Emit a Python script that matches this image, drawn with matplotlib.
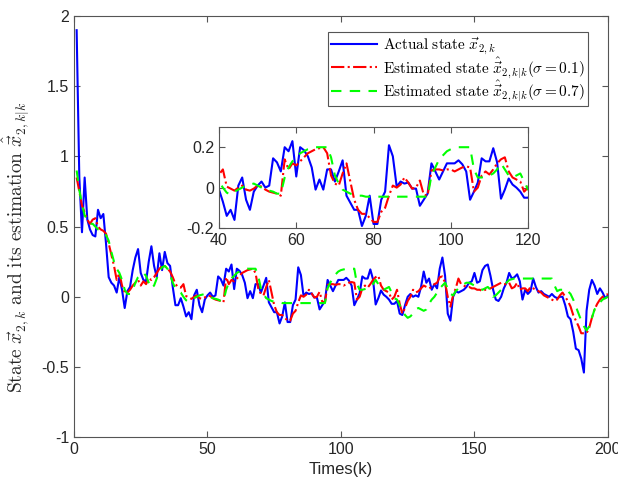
import numpy as np
import matplotlib
matplotlib.use("Agg")
import matplotlib.pyplot as plt

# ---- data, k = 1..200
actual_state = [
    1.9, 0.85, 0.46, 0.85, 0.55, 0.48, 0.44, 0.43, 0.62, 0.56,
    0.59, 0.38, 0.14, 0.10, 0.08, 0.03, 0.14, 0.05, -0.08, 0.04,
    0.07, 0.19, 0.28, 0.34, 0.17, 0.12, 0.11, 0.25, 0.36, 0.22,
    0.14, 0.31, 0.19, 0.32, 0.24, 0.22, 0.07, -0.06, -0.06, -0.01,
    -0.07, -0.14, -0.11, -0.16, 0.01, 0.05, -0.06, -0.11, -0.02, 0.01,
    0.03, 0.00, 0.01, 0.145, 0.125, 0.08, 0.20, 0.18, 0.23, 0.055,
    0.20, 0.185, 0.155, 0.10, -0.01, 0.04, -0.01, 0.09, 0.09, 0.03,
    0.08, 0.135, -0.04, -0.075, -0.11, -0.11, -0.19, -0.14, -0.04, -0.18,
    -0.18, -0.06, -0.02, 0.21, 0.155, 0.005, 0.03, 0.02, 0.025, -0.005,
    -0.005, -0.09, -0.06, -0.03, 0.12, 0.08, 0.04, 0.08, 0.12, 0.12,
    0.12, 0.135, 0.115, 0.08, -0.06, -0.02, 0.025, 0.145, 0.13, 0.13,
    0.195, 0.125, -0.055, -0.01, 0.045, 0.015, 0.0, -0.02, -0.05, -0.05,
    -0.03, -0.12, -0.13, -0.06, 0.0, 0.02, 0.0, 0.01, 0.0, 0.07,
    0.18, 0.10, 0.13, 0.05, 0.09, 0.06, 0.20, 0.28, 0.15, -0.12,
    -0.17, 0.0, 0.04, 0.03, 0.04, 0.05, 0.07, 0.10, 0.11, 0.17,
    0.10, 0.11, 0.19, 0.22, 0.23, 0.15, 0.05, -0.02, -0.03, 0.0,
    0.06, 0.10, 0.17, 0.13, 0.14, 0.16, 0.11, -0.02, 0.05, 0.02,
    0.04, 0.13, 0.07, 0.03, 0.04, 0.02, 0.01, 0.0, 0.02, 0.0,
    -0.01, 0.0, 0.0, -0.06, -0.14, -0.16, -0.25, -0.37, -0.38, -0.44,
    -0.54, -0.10, 0.05, 0.12, 0.08, 0.02, 0.06, 0.03, -0.01, 0.01,
]

est_sigma01 = [
    0.85, 0.75, 0.65, 0.60, 0.55, 0.52, 0.55, 0.56, 0.50, 0.48,
    0.47, 0.45, 0.38, 0.30, 0.22, 0.12, 0.17, 0.08, 0.03, 0.03,
    0.05, 0.08, 0.10, 0.12, 0.08, 0.11, 0.09, 0.13, 0.12, 0.14,
    0.17, 0.20, 0.22, 0.22, 0.20, 0.18, 0.14, 0.09, 0.07, 0.065,
    0.09, 0.005, -0.005, -0.015, 0.0, 0.01, -0.01, -0.015, -0.005, 0.01,
    0.005, -0.01, -0.02, -0.025, -0.03, -0.04, 0.14, 0.09, 0.12, 0.11,
    0.13, 0.15, 0.17, 0.18, 0.19, 0.195, 0.20, 0.17, 0.06, 0.02,
    0.01, 0.07, 0.12, 0.03, -0.06, -0.11, -0.13, -0.13, -0.15, -0.17,
    -0.17, -0.12, -0.10, -0.04, 0.01, 0.0, 0.015, 0.05, 0.025, -0.005,
    0.0, 0.035, -0.035, -0.04, 0.085, 0.09, 0.09, 0.085, 0.09, 0.09,
    0.08, 0.09, 0.10, 0.105, 0.10, -0.02, 0.0, 0.06, 0.08, 0.065,
    0.09, 0.12, 0.14, 0.15, 0.08, 0.05, 0.04, 0.03, -0.02, 0.0,
    0.05, -0.05, -0.12, -0.08, -0.03, 0.0, 0.05, 0.03, 0.04, 0.06,
    0.08, 0.07, 0.06, 0.07, 0.09, 0.10, 0.14, 0.145, 0.10, 0.0,
    -0.07, 0.01, 0.06, 0.13, 0.09, 0.08, 0.07, 0.07, 0.06, 0.06,
    0.05, 0.05, 0.04, 0.05, 0.05, 0.06, 0.07, 0.08, 0.09, 0.10,
    0.09, 0.09, 0.10, 0.06, 0.07, 0.10, 0.05, 0.06, 0.06, 0.04,
    0.07, 0.06, 0.05, 0.04, 0.03, 0.01, 0.0, -0.01, -0.02, -0.03,
    -0.02, 0.01, 0.03, 0.0, -0.03, -0.07, -0.13, -0.17, -0.21, -0.26,
    -0.26, -0.26, -0.22, -0.15, -0.09, -0.05, -0.02, 0.0, 0.01, 0.02,
]

est_sigma07 = [
    0.90, 0.76, 0.66, 0.58, 0.55, 0.52, 0.52, 0.50, 0.48, 0.47,
    0.45, 0.44, 0.40, 0.32, 0.25, 0.20, 0.17, 0.12, 0.05, 0.02,
    0.02, 0.05, 0.10, 0.14, 0.16, 0.17, 0.15, 0.10, 0.06, 0.08,
    0.13, 0.18, 0.21, 0.22, 0.20, 0.16, 0.10, 0.06, 0.04, 0.03,
    0.0, -0.025, -0.035, -0.02, -0.01, 0.0, 0.01, 0.015, 0.02, 0.01,
    0.0, -0.01, -0.015, -0.02, -0.03, -0.03, 0.05, 0.10, 0.13, 0.15,
    0.17, 0.18, 0.19, 0.195, 0.20, 0.20, 0.20, 0.20, 0.15, 0.06,
    0.02, -0.01, -0.02, -0.03, -0.035, -0.04, -0.04, -0.045, -0.045, -0.045,
    -0.045, -0.045, -0.045, -0.045, -0.045, -0.045, -0.045, -0.045, -0.045, -0.045,
    -0.045, -0.045, -0.045, -0.045, 0.06, 0.10, 0.14, 0.16, 0.18, 0.19,
    0.195, 0.20, 0.20, 0.20, 0.20, 0.09, 0.05, 0.05, 0.055, 0.06,
    0.07, 0.09, 0.12, 0.09, 0.06, 0.05, 0.06, 0.07, 0.03, -0.01,
    -0.02, -0.06, -0.10, -0.13, -0.15, -0.14, -0.12, -0.09, -0.08, -0.09,
    -0.10, -0.09, -0.05, -0.02, 0.0, 0.03, 0.06, 0.08, 0.10, 0.06,
    0.02, 0.01, 0.04, 0.06, 0.08, 0.09, 0.10, 0.10, 0.09, 0.08,
    0.07, 0.06, 0.05, 0.06, 0.07, 0.05, 0.0, 0.01, 0.03, 0.05,
    0.08, 0.10, 0.12, 0.125, 0.13, 0.13, 0.13, 0.13, 0.13, 0.13,
    0.13, 0.13, 0.13, 0.13, 0.13, 0.13, 0.13, 0.13, 0.13, 0.08,
    0.04, 0.05, 0.05, 0.06, 0.04, 0.02, -0.02, -0.07, -0.12, -0.17,
    -0.21, -0.24, -0.21, -0.15, -0.09, -0.06, -0.04, -0.02, -0.01, 0.0,
]

k = np.arange(1, len(actual_state) + 1)

main_yticks = [-1, -0.5, 0, 0.5, 1, 1.5, 2]
main_ylabels = ["-1", "-0.5", "0", "0.5", "1", "1.5", "2"]
main_xticks = [0, 50, 100, 150, 200]
inset_xticks = [40, 60, 80, 100, 120]
inset_yticks = [-0.2, 0, 0.2]
inset_ylabels = ["-0.2", "0", "0.2"]

labels = [
    r"$\mathrm{Actual\ state}\ \vec{x}_{2,k}$",
    r"$\mathrm{Estimated\ state}\ \hat{\vec{x}}_{2,k|k}(\sigma=0.1)$",
    r"$\mathrm{Estimated\ state}\ \hat{\vec{x}}_{2,k|k}(\sigma=0.7)$",
]

plt.rcParams["font.family"] = ["Liberation Sans", "DejaVu Sans"]
plt.rcParams["mathtext.fontset"] = "cm"
plt.rcParams["axes.unicode_minus"] = False

AX_COLOR = "#555555"
TXT_COLOR = "#262626"


def style_axes(ax, fs):
    for s in ax.spines.values():
        s.set_color(AX_COLOR)
        s.set_linewidth(0.8)
    ax.tick_params(direction="in", top=True, right=True, length=4,
                   width=0.8, color=AX_COLOR, labelcolor=TXT_COLOR,
                   labelsize=fs)


def draw_series(ax):
    ax.plot(k, actual_state, color="#0000FF", lw=1.5, label=labels[0])
    ax.plot(k, est_sigma01, color="#FF0000", lw=1.5, ls="-.", label=labels[1])
    ax.plot(k, est_sigma07, color="#00FF00", lw=1.5, ls=(0, (5, 4)),
            label=labels[2])


fig = plt.figure(figsize=(6.18, 4.90), dpi=100)
ax = fig.add_axes([0.1197, 0.108, 0.864, 0.859])
draw_series(ax)
ax.set_xlim(0, 200)
ax.set_ylim(-1, 2)
ax.set_xticks(main_xticks)
ax.set_yticks(main_yticks)
ax.set_yticklabels(main_ylabels)
style_axes(ax, 11.5)
ax.set_xlabel("Times(k)", fontsize=12, color=TXT_COLOR, labelpad=4)
ax.set_ylabel(r"$\mathrm{State}\ \vec{x}_{2,k}\ \mathrm{and\ its\ estimation}\ \hat{\vec{x}}_{2,k|k}$",
              fontsize=14, color=TXT_COLOR)
ax.yaxis.set_label_coords(-0.078, 0.45)

leg = ax.legend(loc="upper right", bbox_to_anchor=(0.963, 0.962),
                borderaxespad=0, fancybox=False, framealpha=1,
                edgecolor=AX_COLOR, fontsize=11, handlelength=3.0,
                handletextpad=0.4, borderpad=0.2, labelspacing=-0.08)
leg.get_frame().set_linewidth(0.8)

# zoomed inset, k = 40..120
axins = fig.add_axes([0.3544, 0.5347, 0.5, 0.2061])
draw_series(axins)
axins.set_xlim(40, 120)
axins.set_ylim(-0.2, 0.3)
axins.set_xticks(inset_xticks)
axins.set_yticks(inset_yticks)
axins.set_yticklabels(inset_ylabels)
style_axes(axins, 11.5)

fig.savefig("out.png", dpi=100)
